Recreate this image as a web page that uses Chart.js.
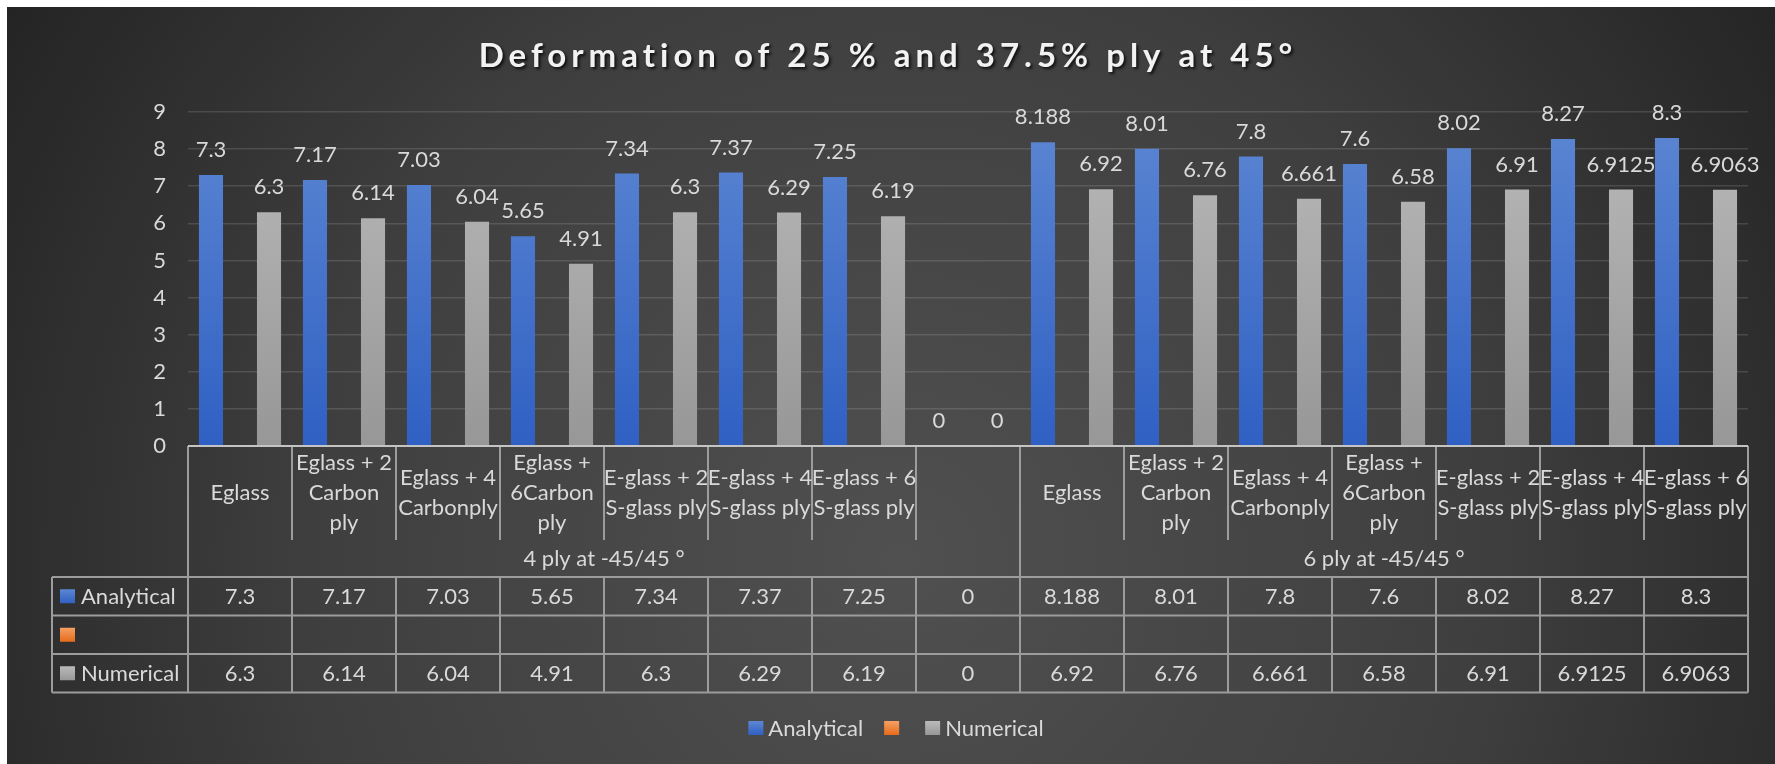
<!DOCTYPE html>
<html>
<head>
<meta charset="utf-8">
<script src="https://cdn.jsdelivr.net/npm/chart.js@4/dist/chart.umd.min.js"></script>
<style>
    html, body { margin: 0; padding: 0; background: #ffffff; }
    canvas { display: block; }
</style>
</head>
<body>
<canvas id="cnvDeformation" width="1775" height="764"></canvas>
<script>
/**
 * DATA
 */
const chartTitle = "Deformation of 25 % and 37.5% ply at 45°";

// one entry per category, each entry is the lines of the label
const categories = [
    ["Eglass"], ["Eglass + 2", "Carbon", "ply"], ["Eglass + 4", "Carbonply"], ["Eglass +", "6Carbon", "ply"],
    ["E-glass + 2", "S-glass ply"], ["E-glass + 4", "S-glass ply"], ["E-glass + 6", "S-glass ply"], [""],
    ["Eglass"], ["Eglass + 2", "Carbon", "ply"], ["Eglass + 4", "Carbonply"], ["Eglass +", "6Carbon", "ply"],
    ["E-glass + 2", "S-glass ply"], ["E-glass + 4", "S-glass ply"], ["E-glass + 6", "S-glass ply"]
];
const groupNames = ["4 ply at -45/45 °", "6 ply at -45/45 °"];
const groupSizes = [8, 7];

const seriesNames = ["Analytical", "", "Numerical"];
const analytical = [7.3, 7.17, 7.03, 5.65, 7.34, 7.37, 7.25, 0, 8.188, 8.01, 7.8, 7.6, 8.02, 8.27, 8.3];
const unnamed = [null, null, null, null, null, null, null, null, null, null, null, null, null, null, null];
const numerical = [6.3, 6.14, 6.04, 4.91, 6.3, 6.29, 6.19, 0, 6.92, 6.76, 6.661, 6.58, 6.91, 6.9125, 6.9063];

const yMin = 0;
const yMax = 9;
const yStep = 1;

/**
 * STYLES
 */
const textColor = "#d9d9d9";
const lineColor = "#9c9c9c";
const fontFamily = "Lato";
const seriesColors = [
    ["#5d87d3", "#2f60c3"],
    ["#f4a064", "#e66b1a"],
    ["#bababa", "#979797"]
];

/**
 * gradient for a bar or key, top colour to bottom colour
 */
function MakeGradient(ctx, top, bottom, colors) {
    let grad = ctx.createLinearGradient(0, top, 0, bottom);
    grad.addColorStop(0, colors[0]);
    grad.addColorStop(1, colors[1]);
    return grad;
}

function BarFill(index) {
    return function (context) {
        let area = context.chart.chartArea;
        if (!area) {
            return seriesColors[index][1];
        }
        return MakeGradient(context.chart.ctx, area.top, area.bottom, seriesColors[index]);
    };
}

/**
 * plugin that paints the dark panel behind everything
 */
const panelBackground = {
    id: "panelBackground",
    beforeDraw(chart) {
        let ctx = chart.ctx;
        ctx.save();
        ctx.fillStyle = "#ffffff";
        ctx.fillRect(0, 0, chart.width, chart.height);
        let grad = ctx.createRadialGradient(900, 560, 0, 900, 560, 1050);
        grad.addColorStop(0, "#505050");
        grad.addColorStop(0.55, "#3f3f3f");
        grad.addColorStop(1, "#242424");
        ctx.fillStyle = grad;
        ctx.fillRect(7, 7, chart.width - 7, chart.height - 7);
        ctx.restore();
    }
};

/**
 * plugin for the title, value labels, data table and legend
 */
const excelExtras = {
    id: "excelExtras",
    afterDatasetsDraw(chart) {
        let ctx = chart.ctx;
        ctx.save();
        ctx.font = `22px ${fontFamily}`;
        ctx.fillStyle = textColor;
        ctx.textAlign = "center";
        ctx.textBaseline = "middle";
        chart.data.datasets.forEach((ds, d) => {
            let meta = chart.getDatasetMeta(d);
            meta.data.forEach((bar, i) => {
                let v = ds.data[i];
                if (v === null || v === undefined) return;
                ctx.fillText(String(v), bar.x, bar.y - 25);
            });
        });
        ctx.restore();
    },
    afterDraw(chart) {
        DrawTitle(chart);
        DrawDataTable(chart);
        DrawLegend(chart);
    }
};

function DrawTitle(chart) {
    let ctx = chart.ctx;
    ctx.save();
    ctx.font = `bold 33px ${fontFamily}`;
    ctx.letterSpacing = "5px";
    ctx.textAlign = "center";
    ctx.textBaseline = "middle";
    ctx.shadowColor = "rgba(0, 0, 0, 0.75)";
    ctx.shadowOffsetX = 2;
    ctx.shadowOffsetY = 2;
    ctx.shadowBlur = 3;
    ctx.fillStyle = "#f2f2f2";
    ctx.fillText(chartTitle, 888, 56);
    ctx.restore();
}

function DrawKey(ctx, x, yMid, index) {
    let top = yMid - 7;
    ctx.fillStyle = MakeGradient(ctx, top, top + 14, seriesColors[index]);
    ctx.fillRect(x, top, 15, 14);
}

/**
 * draws the data table under the plot, columns follow the x scale
 */
function DrawDataTable(chart) {
    let ctx = chart.ctx;
    let xs = chart.scales.x;
    let area = chart.chartArea;
    let n = categories.length;
    let cw = (area.right - area.left) / n;
    let top = area.bottom;
    let headBottom = top + 94;
    let groupBottom = headBottom + 37;
    let rowH = 38.5;
    let tableLeft = 52;
    let tableBottom = groupBottom + rowH * seriesNames.length;
    let edge = i => xs.getPixelForValue(i) - cw / 2;

    ctx.save();
    ctx.strokeStyle = lineColor;
    ctx.lineWidth = 2;
    ctx.beginPath();
    // category header columns
    for (let i = 0; i <= n; i++) {
        let x = i < n ? edge(i) : edge(n - 1) + cw;
        ctx.moveTo(x, top);
        ctx.lineTo(x, headBottom);
        ctx.moveTo(x, groupBottom);
        ctx.lineTo(x, tableBottom);
    }
    // group separators
    let gi = 0;
    for (let g = 0; g <= groupSizes.length; g++) {
        let x = gi < n ? edge(gi) : edge(n - 1) + cw;
        ctx.moveTo(x, headBottom);
        ctx.lineTo(x, groupBottom);
        if (g < groupSizes.length) gi += groupSizes[g];
    }
    // series rows
    for (let r = 0; r <= seriesNames.length; r++) {
        let y = groupBottom + r * rowH;
        ctx.moveTo(tableLeft, y);
        ctx.lineTo(area.right, y);
    }
    ctx.moveTo(tableLeft, groupBottom);
    ctx.lineTo(tableLeft, tableBottom);
    ctx.stroke();

    // axis line on top of the table
    ctx.strokeStyle = "#c4c4c4";
    ctx.beginPath();
    ctx.moveTo(area.left, top);
    ctx.lineTo(area.right, top);
    ctx.stroke();

    ctx.font = `22px ${fontFamily}`;
    ctx.fillStyle = textColor;
    ctx.textAlign = "center";
    ctx.textBaseline = "middle";

    // category labels
    let headMid = (top + headBottom) / 2;
    categories.forEach((lines, i) => {
        let cx = xs.getPixelForValue(i);
        let y0 = headMid - (lines.length - 1) * 15;
        lines.forEach((line, k) => ctx.fillText(line, cx, y0 + k * 30));
    });

    // group labels
    gi = 0;
    groupNames.forEach((name, g) => {
        let x0 = edge(gi);
        gi += groupSizes[g];
        let x1 = gi < n ? edge(gi) : edge(n - 1) + cw;
        ctx.fillText(name, (x0 + x1) / 2, (headBottom + groupBottom) / 2);
    });

    // series rows
    let rows = [analytical, unnamed, numerical];
    rows.forEach((values, r) => {
        let yMid = groupBottom + r * rowH + rowH / 2;
        DrawKey(ctx, tableLeft + 8, yMid, r);
        ctx.fillStyle = textColor;
        ctx.textAlign = "left";
        ctx.fillText(seriesNames[r], tableLeft + 29, yMid + 1);
        ctx.textAlign = "center";
        values.forEach((v, i) => {
            if (v === null) return;
            ctx.fillText(String(v), xs.getPixelForValue(i), yMid + 1);
        });
    });
    ctx.restore();
}

/**
 * legend row at the bottom of the panel
 */
function DrawLegend(chart) {
    let ctx = chart.ctx;
    ctx.save();
    ctx.font = `22px ${fontFamily}`;
    ctx.textBaseline = "middle";
    ctx.textAlign = "left";
    let widths = seriesNames.map(s => 15 + 5 + ctx.measureText(s).width);
    let total = widths.reduce((a, b) => a + b, 0) + 21 * (widths.length - 1);
    let x = 896 - total / 2;
    let y = 728;
    seriesNames.forEach((s, i) => {
        DrawKey(ctx, x, y, i);
        ctx.fillStyle = textColor;
        ctx.fillText(s, x + 20, y + 1);
        x += widths[i] + 21;
    });
    ctx.restore();
}

/**
 * CHART
 */
Chart.defaults.font.family = fontFamily;

const cnvDeformation = document.querySelector("#cnvDeformation");
const deformationChart = new Chart(cnvDeformation, {
    type: "bar",
    data: {
        labels: categories,
        datasets: [
            { label: seriesNames[0], data: analytical, backgroundColor: BarFill(0) },
            { label: seriesNames[1], data: unnamed, backgroundColor: BarFill(1) },
            { label: seriesNames[2], data: numerical, backgroundColor: BarFill(2) }
        ]
    },
    options: {
        responsive: false,
        animation: false,
        categoryPercentage: 0.837,
        barPercentage: 0.83,
        layout: {
            padding: { top: 112, right: 27, bottom: 72, left: 0 }
        },
        plugins: {
            legend: { display: false },
            title: { display: false },
            tooltip: { enabled: false }
        },
        scales: {
            x: {
                grid: { display: false },
                border: { display: false },
                ticks: { display: false },
                afterFit(axis) { axis.height = 246; }
            },
            y: {
                min: yMin,
                max: yMax,
                ticks: {
                    stepSize: yStep,
                    color: textColor,
                    font: { size: 22 },
                    padding: 22
                },
                grid: {
                    color: "rgba(255, 255, 255, 0.13)",
                    lineWidth: 1.5,
                    drawTicks: false
                },
                border: { display: false },
                afterFit(axis) { axis.width = 188; }
            }
        }
    },
    plugins: [panelBackground, excelExtras]
});
</script>
</body>
</html>
